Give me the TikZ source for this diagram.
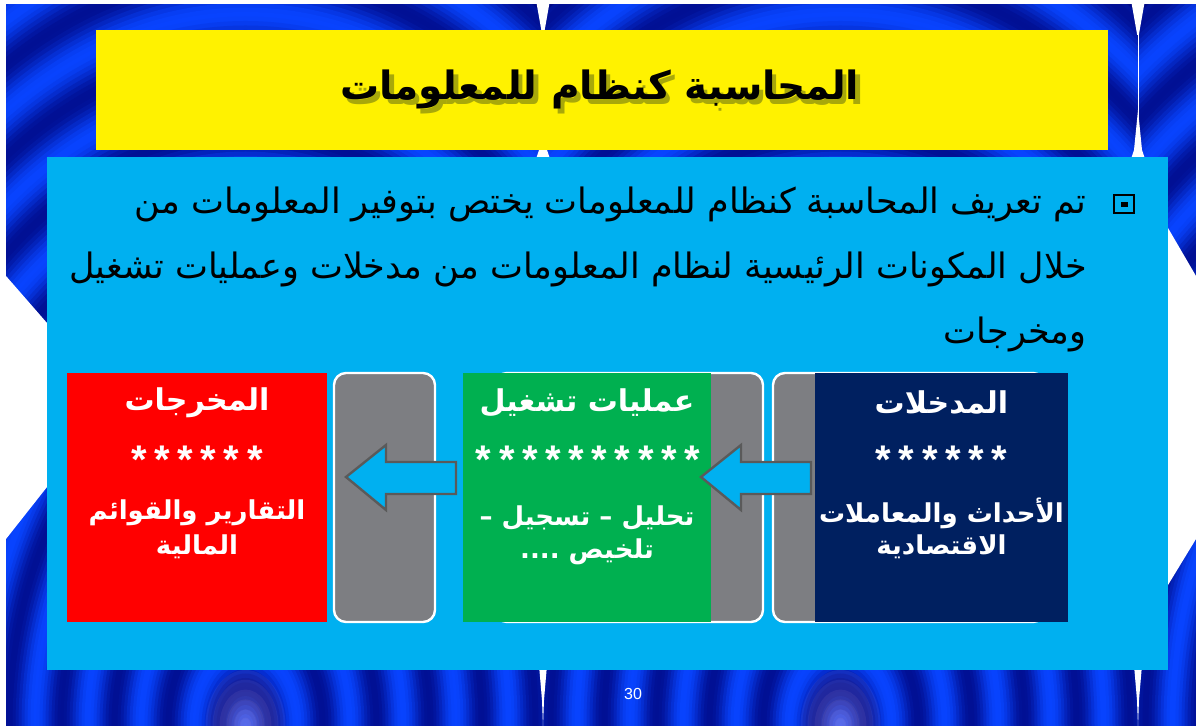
\documentclass[tikz,border=0pt]{standalone}
\usepackage{fontspec}
\setmainfont{Liberation Sans}
\newfontfamily\arabicfont[Script=Arabic]{DejaVu Sans}
\TeXXeTstate=1
\definecolor{navyb}{HTML}{000A88}
\definecolor{brightb}{HTML}{0844FF}
\definecolor{slidecyan}{HTML}{00B0F0}
\definecolor{boxred}{HTML}{FF0000}
\definecolor{boxgreen}{HTML}{00B050}
\definecolor{boxnavy}{HTML}{002060}
\definecolor{panelgray}{HTML}{7D7E82}
\definecolor{arrowedge}{HTML}{5A5A5A}
\definecolor{titleshade}{HTML}{6E6E10}
\tikzset{
  panel/.style={draw=white, line width=1.2pt, fill=panelgray, rounded corners=6pt, minimum height=124.5pt, inner sep=0pt},
  boxnode/.style={minimum height=124.5pt, inner sep=0pt},
  boxhead/.style={text=white, font=\arabicfont\bfseries\fontsize{15}{17}\selectfont, inner sep=0pt},
  boxtext/.style={text=white, font=\arabicfont\bfseries\fontsize{13}{15}\selectfont, inner sep=0pt},
  stars/.style={text=white, font=\bfseries\fontsize{20}{20}\selectfont, inner sep=0pt},
  body/.style={text=black, font=\arabicfont\fontsize{17.5}{20}\selectfont, inner sep=0pt, anchor=east},
  blockarrow/.style={fill=slidecyan, draw=arrowedge, line width=1.2pt, line join=miter},
}
\newcommand\astk{*\kern3.8pt}
\newcommand\titletext{\beginR المحاسبة كنظام للمعلومات\endR}
\begin{document}
\begin{tikzpicture}[x=0.5pt,y=-0.5pt]
\useasboundingbox (0,0) rectangle (1196,726);
\fill[white] (0,0) rectangle (1196,726);
% background ripple tiles
\begin{scope}
\clip (6,5) rectangle (1196,726);
\foreach \cx/\xl/\xr in {245.5/-52/543, 840.5/543/1138, 1435.5/1138/1733} {
  \begin{scope}
  \clip (\xl,0) rectangle (\xr,726);
  \fill[navyb] (\xl,0) rectangle (\xr,726);
  \foreach \r in {560,557,...,0} {
     \pgfmathtruncatemacro\t{55+45*cos(\r*6.8)}
     \fill[brightb!\t!navyb] (\cx,726) ellipse ({\r} and {1.5*\r});
  }
  \end{scope}
}
\foreach \xb in {-52,543,1138} {
  \fill[white] (\xb-7,0) -- (\xb+7,0) -- (\xb+0.8,35) -- (\xb-0.8,35) -- cycle;
  \draw[white, line width=0.4pt] (\xb,35) -- (\xb,120);
  \fill[white] (\xb,110) -- (\xb+4,150) -- (\xb+30,228) -- (\xb+58,276) -- (\xb+99,323) -- (\xb+170,405)
     -- (\xb+99,487) -- (\xb+58,539) -- (\xb+30,585) -- (\xb+4,665) -- (\xb+1,700) -- (\xb,726)
     -- (\xb-1,700) -- (\xb-4,665) -- (\xb-30,585) -- (\xb-58,539) -- (\xb-99,487) -- (\xb-170,405)
     -- (\xb-99,323) -- (\xb-58,276) -- (\xb-30,228) -- (\xb-4,150) -- cycle;
}
\foreach \gx in {245.5,840.5} {
  \foreach \gr in {40,33,26,19,12,6} {
    \fill[white!70!violet, opacity=0.08] (\gx,726) ellipse ({\gr} and {1.4*\gr});
  }
}
\end{scope}
% title bar
\fill[yellow] (96,30) rectangle (1108,150);
\node[text=black, font=\arabicfont\bfseries\fontsize{19.5}{22}\selectfont, inner sep=0pt] (title) at (600,92)
  {\makebox[0pt][l]{\kern2.2pt\raisebox{-2.4pt}{\textcolor{titleshade!60!yellow}{\titletext}}}\titletext};
% content panel
\fill[slidecyan] (47,157) rectangle (1168,670);
% bullet
\draw[black, line width=1.1pt] (1114,195) rectangle (1134,213);
\fill[black] (1121,202) rectangle (1128,207);
\node[body] (l1) at (1087,204) {\beginR تم تعريف المحاسبة كنظام للمعلومات يختص بتوفير المعلومات من\endR};
\node[body] (l2) at (1087,269) {\beginR خلال المكونات الرئيسية لنظام المعلومات من مدخلات وعمليات تشغيل\endR};
\node[body] (l3) at (1087,334) {\beginR ومخرجات\endR};
% gray panels
\node[panel, minimum width=136pt] (p3) at (909,497.5) {};
\node[panel, minimum width=134pt] (p2) at (629,497.5) {};
\node[panel, minimum width=50.5pt] (p1) at (384.5,497.5) {};
% coloured boxes
\node[boxnode, fill=boxred, minimum width=130pt] (outbox) at (197,497.5) {};
\node[boxnode, fill=boxgreen, minimum width=124pt] (procbox) at (587,497.5) {};
\node[boxnode, fill=boxnavy, minimum width=126.5pt] (inbox) at (941.5,497.5) {};
% arrows
\draw[blockarrow] (346,477) -- (386,445) -- (386,462) -- (456,462) -- (456,494) -- (386,494) -- (386,510) -- cycle;
\draw[blockarrow] (701,477) -- (741,445) -- (741,462) -- (811,462) -- (811,494) -- (741,494) -- (741,510) -- cycle;
% texts in boxes
\node[boxhead] (oh) at (197,403) {\beginR المخرجات\endR};
\node[stars] (os) at (197,460) {\astk\astk\astk\astk\astk*};
\node[boxtext] (ot1) at (197,513) {\beginR التقارير والقوائم\endR};
\node[boxtext] (ot2) at (197,547) {\beginR المالية\endR};
\node[boxhead] (ph) at (587,403) {\beginR عمليات تشغيل\endR};
\node[stars] (ps) at (588,460) {\astk\astk\astk\astk\astk\astk\astk\astk\astk*};
\node[boxtext] (pt1) at (587,518) {\beginR تحليل – تسجيل –\endR};
\node[boxtext] (pt2) at (587,552) {\beginR تلخيص ....\endR};
\node[boxhead] (ih) at (941.5,403) {\beginR المدخلات\endR};
\node[stars] (is) at (941.5,460) {\astk\astk\astk\astk\astk*};
\node[boxtext] (it1) at (941.5,513) {\beginR الأحداث والمعاملات\endR};
\node[boxtext] (it2) at (941.5,547) {\beginR الاقتصادية\endR};
% page number
\node[text=white, font=\fontsize{8}{9}\selectfont, inner sep=0pt] (pg) at (633,694) {30};
\end{tikzpicture}
\end{document}
